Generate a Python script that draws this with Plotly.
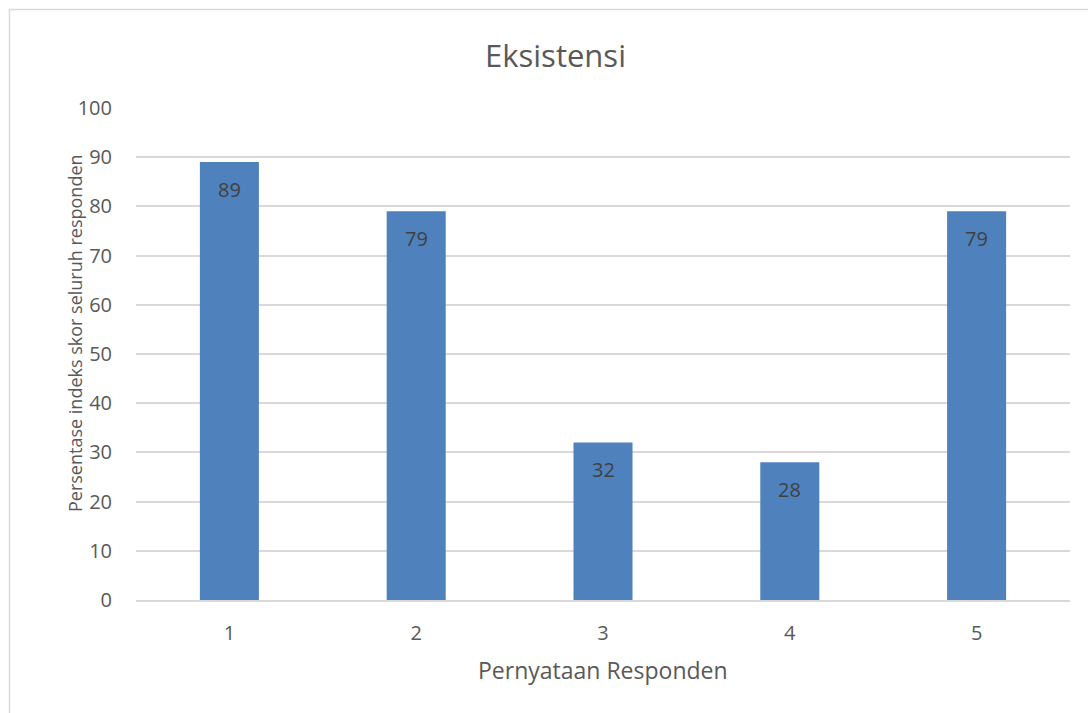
import plotly.graph_objects as go

categories = ["1", "2", "3", "4", "5"]
values = [89, 79, 32, 28, 79]
y_ticks = [0, 10, 20, 30, 40, 50, 60, 70, 80, 90, 100]

title_text = "Eksistensi"
x_title = "Pernyataan Responden"
y_title = "Persentase indeks skor seluruh responden"

FONT = "Open Sans"
W, H = 1088, 713
ML, MR, MT, MB = 136, 18, 108, 113
PW = W - ML - MR
PH = H - MT - MB

fig = go.Figure()
fig.add_trace(go.Bar(
    x=categories, y=values,
    marker=dict(color="#4f81bd", line=dict(width=0)),
    hoverinfo="x+y",
))

annotations = []
for i, v in enumerate(values):
    annotations.append(dict(
        x=i, y=v, xref="x", yref="y", text=str(v), showarrow=False,
        yanchor="middle", yshift=-27,
        font=dict(family=FONT, size=20, color="#404040"),
    ))

# chart title
annotations.append(dict(
    x=(555 - ML) / PW, y=(H - MB - 55) / PH, xref="paper", yref="paper",
    text=title_text, showarrow=False, xanchor="center", yanchor="middle",
    font=dict(family=FONT, size=31, color="#595959"),
))
# x axis title
annotations.append(dict(
    x=(603 - ML) / PW, y=(H - MB - 670) / PH, xref="paper", yref="paper",
    text=x_title, showarrow=False, xanchor="center", yanchor="middle",
    font=dict(family=FONT, size=23, color="#595959"),
))
# y axis title
annotations.append(dict(
    x=(75 - ML) / PW, y=(H - MB - 333) / PH, xref="paper", yref="paper",
    text=y_title, showarrow=False, xanchor="center", yanchor="middle",
    textangle=-90,
    font=dict(family=FONT, size=18, color="#595959"),
))

fig.update_layout(
    width=W, height=H,
    margin=dict(l=ML, r=MR, t=MT, b=MB, pad=0),
    paper_bgcolor="white", plot_bgcolor="white",
    bargap=0.684,
    showlegend=False,
    annotations=annotations,
    shapes=[dict(
        type="rect", xref="paper", yref="paper",
        x0=(9.5 - ML) / PW, x1=(W + 20 - ML) / PW,
        y0=(H - MB - (H + 20)) / PH, y1=(H - MB - 9.5) / PH,
        line=dict(color="#d9d9d9", width=1.5), fillcolor="rgba(0,0,0,0)",
        layer="below",
    )],
)

fig.update_xaxes(
    type="category", range=[-0.5, len(categories) - 0.5],
    showgrid=False, showline=True, linecolor="#d9d9d9", linewidth=1.5,
    ticks="outside", ticklen=14, tickcolor="rgba(0,0,0,0)",
    tickfont=dict(family=FONT, size=20, color="#595959"),
)
fig.update_yaxes(
    range=[0, 100], tickvals=y_ticks,
    showgrid=True, gridcolor="#d9d9d9", gridwidth=1.5,
    zeroline=False, showline=False,
    ticks="outside", ticklen=19, tickcolor="rgba(0,0,0,0)",
    tickfont=dict(family=FONT, size=20, color="#595959"),
)

fig.write_html("out.html")
